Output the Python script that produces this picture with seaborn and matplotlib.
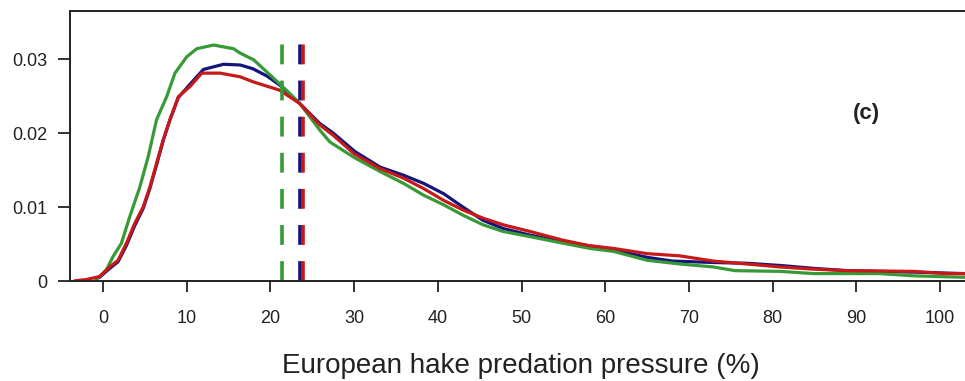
import numpy as np
import pandas as pd
import matplotlib
matplotlib.use("Agg")
import matplotlib.pyplot as plt
import seaborn as sns

# ---- data ----
blue_x = [-1.0, -0.4, 0.8, 1.8, 2.8, 3.8, 4.8, 5.6, 6.4, 7.2, 8.0, 9.0, 10.4, 12.0, 14.4,
          16.4, 17.9, 19.6, 21.1, 23.5, 25.9, 27.5, 30.1, 33.1, 35.9, 38.3, 40.7, 43.0,
          45.4, 47.8, 51.0, 55.0, 58.2, 61.0, 65.0, 68.0, 72.9, 76.9, 80.9, 85.0, 88.9,
          96.8, 103.0]
blue_y = [0.0002, 0.0005, 0.0017, 0.0026, 0.0048, 0.0075, 0.0098, 0.0125, 0.0157, 0.0190,
          0.0218, 0.0248, 0.0266, 0.0286, 0.0293, 0.0292, 0.0287, 0.0277, 0.0265, 0.0240,
          0.0213, 0.0200, 0.0175, 0.0154, 0.0143, 0.0132, 0.0118, 0.0100, 0.0082, 0.0071,
          0.0062, 0.0053, 0.0047, 0.0042, 0.0032, 0.0027, 0.0025, 0.0024, 0.0021, 0.0017,
          0.0014, 0.0012, 0.0010]

red_x = [-3.5, -2.0, -1.2, -0.4, 0.8, 1.8, 2.8, 3.8, 4.8, 5.6, 6.4, 7.2, 8.0, 9.0, 10.4,
         11.8, 14.0, 16.4, 18.0, 21.1, 23.5, 25.9, 27.5, 30.0, 33.1, 35.9, 38.3, 40.7,
         43.0, 45.4, 47.8, 51.0, 55.0, 58.0, 61.0, 65.0, 68.9, 72.9, 76.9, 80.9, 84.9,
         88.9, 96.8, 100.8, 103.0]
red_y = [0.0000, 0.0002, 0.0004, 0.0006, 0.0019, 0.0028, 0.0051, 0.0078, 0.0100, 0.0127,
         0.0159, 0.0191, 0.0218, 0.0249, 0.0263, 0.0281, 0.0281, 0.0276, 0.0269, 0.0258,
         0.0240, 0.0211, 0.0197, 0.0172, 0.0152, 0.0139, 0.0125, 0.0109, 0.0096, 0.0085,
         0.0076, 0.0067, 0.0055, 0.0048, 0.0044, 0.0037, 0.0034, 0.0027, 0.0023, 0.0019,
         0.0016, 0.0014, 0.0013, 0.0010, 0.0010]

green_x = [-1.0, -0.4, 0.4, 1.2, 2.2, 3.2, 4.4, 5.4, 6.4, 7.6, 8.6, 10.0, 11.2, 13.2, 15.6,
           16.4, 18.0, 20.3, 21.9, 23.5, 25.9, 27.1, 30.0, 33.1, 35.9, 38.3, 40.7, 43.0,
           45.4, 47.8, 51.0, 55.0, 58.2, 61.0, 65.0, 68.9, 72.9, 75.5, 80.9, 84.9, 92.8,
           96.8, 103.0]
green_y = [0.0002, 0.0006, 0.0015, 0.0033, 0.0051, 0.0087, 0.0127, 0.0168, 0.0218, 0.0249,
           0.0281, 0.0303, 0.0314, 0.0319, 0.0314, 0.0308, 0.0299, 0.0275, 0.0258, 0.0240,
           0.0204, 0.0188, 0.0167, 0.0148, 0.0132, 0.0116, 0.0103, 0.0089, 0.0076, 0.0067,
           0.0060, 0.0051, 0.0044, 0.0040, 0.0028, 0.0023, 0.0019, 0.0014, 0.0013, 0.0010,
           0.0010, 0.0007, 0.0005]

series = ["blue", "green", "red"]
mean_values = {"blue": 23.55, "green": 21.35, "red": 23.95}
vline_top = 0.0322

x_ticks = [0, 10, 20, 30, 40, 50, 60, 70, 80, 90, 100]
y_ticks = [0, 0.01, 0.02, 0.03]
y_tick_labels = ["0", "0.01", "0.02", "0.03"]
x_label = "European hake predation pressure (%)"
panel_label = "(c)"

colors = {"blue": "#14147e", "red": "#c81818", "green": "#379a37"}

# ---- build table ----
frames = []
for name, xs, ys in [("blue", blue_x, blue_y), ("green", green_x, green_y), ("red", red_x, red_y)]:
    frames.append(pd.DataFrame({"x": xs, "y": ys, "series": name}))
df = pd.concat(frames, ignore_index=True)

sns.set_style("white")
plt.rcParams["font.family"] = ["Liberation Sans", "DejaVu Sans"]

fig = plt.figure(figsize=(9.65, 3.81), dpi=100)
ax = fig.add_axes([70 / 965, (381 - 281) / 381, 895 / 965, 270 / 381])

sns.lineplot(data=df, x="x", y="y", hue="series", hue_order=series, palette=colors,
             estimator=None, sort=False, linewidth=2.3, legend=False, ax=ax)
for line in ax.lines:
    line.set_solid_joinstyle("round")
    line.set_solid_capstyle("butt")

# vertical dashed mean lines
for name in ["green", "blue", "red"]:
    mv = mean_values[name]
    ax.plot([mv, mv], [0, vline_top], color=colors[name], linewidth=2.6,
            dashes=(5.5, 4.5), solid_capstyle="butt", dash_capstyle="butt")

ax.set_xlim(-3.94, 102.98)
ax.set_ylim(0, 0.0365)
ax.set_xticks(x_ticks)
ax.set_xticklabels([str(t) for t in x_ticks])
ax.set_yticks(y_ticks)
ax.set_yticklabels(y_tick_labels)
ax.tick_params(axis="x", direction="out", length=8, width=1.3, pad=12.7,
               labelsize=13, colors="#222222", bottom=True)
ax.tick_params(axis="y", direction="out", length=8.5, width=1.3, pad=7.5,
               labelsize=13, colors="#222222", left=True)
ax.set_ylabel("")
ax.set_xlabel(x_label, fontsize=20, color="#222222")
ax.xaxis.label.set_va("baseline")
ax.xaxis.set_label_coords((521 - 70) / 895, (281 - 373) / 270)

for side in ["left", "top", "bottom"]:
    ax.spines[side].set_visible(True)
    ax.spines[side].set_color("#222222")
    ax.spines[side].set_linewidth(1.4)
ax.spines["right"].set_visible(False)

ax.text(91.2, 0.0227, panel_label, fontsize=16, fontweight="bold", color="#222222",
        ha="center", va="center")

fig.savefig("out.png", dpi=100)
